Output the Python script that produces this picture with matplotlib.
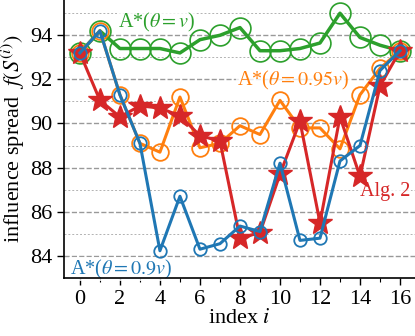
import numpy as np
import matplotlib
matplotlib.use("Agg")
import matplotlib.pyplot as plt
from matplotlib.ticker import MultipleLocator

plt.rcParams['font.family'] = ['Liberation Serif', 'DejaVu Serif']
plt.rcParams['mathtext.fontset'] = 'stix'

idx = np.arange(17)
# A*(theta = v)
green = [93.2, 94.2, 93.4, 93.4, 93.4, 93.2, 93.8, 94.0, 94.35, 93.3,
         93.3, 93.4, 93.65, 95.0, 93.9, 93.55, 93.3]
# A*(theta = 0.95v)
orange = [93.2, 94.2, 91.3, 89.1, 88.7, 91.2, 88.9, 89.1, 89.9, 89.5,
          91.05, 89.8, 89.8, 88.85, 91.3, 92.5, 93.3]
# A*(theta = 0.9v)
blue = [93.2, 94.2, 91.3, 89.1, 84.23, 86.7, 84.3, 84.55, 85.35, 85.1,
        88.2, 84.7, 84.8, 88.3, 89.0, 92.4, 93.3]
# Alg. 2
red = [93.2, 91.05, 90.3, 90.8, 90.7, 90.35, 89.45, 89.2, 84.8, 85.05,
       87.7, 90.1, 85.5, 90.3, 87.6, 91.7, 93.3]

c_blue, c_orange, c_green, c_red = '#1f77b4', '#ff7f0e', '#2ca02c', '#d62728'

fig = plt.figure(figsize=(4.15, 3.36), dpi=100)
ax = fig.add_axes([0.154, 0.173, 0.846, 0.827])

ax.plot(idx, green, color=c_green, lw=2.5, marker='o', ms=15,
        mfc='none', mew=1.2, zorder=3)
ax.plot(idx, orange, color=c_orange, lw=2.2, marker='o', ms=12,
        mfc='none', mew=1.3, zorder=4)
ax.plot(idx, red, color=c_red, lw=2.2, marker='*', ms=18, zorder=5)
ax.plot(idx, blue, color=c_blue, lw=2.2, marker='o', ms=9,
        mfc='none', mew=1.3, zorder=6)

box = dict(facecolor='white', edgecolor='none', pad=0.5, alpha=0.8)
ax.text(1.9, 94.6, r'A*($\theta=v$)', color=c_green, fontsize=14.5,
        va='center', bbox=box, zorder=2)
ax.text(7.85, 91.95, r'A*($\theta=0.95v$)', color=c_orange, fontsize=14.5,
        va='center', bbox=box, zorder=2)
ax.text(-0.5, 83.4, r'A*($\theta=0.9v$)', color=c_blue, fontsize=14.5,
        va='center', bbox=box, zorder=2)
ax.text(14.0, 86.9, 'Alg. 2', color=c_red, fontsize=14.5,
        va='center', bbox=box, zorder=2)

ax.set_xlim(-0.8, 16.75)
ax.set_ylim(83.0, 95.6)
ax.xaxis.set_major_locator(MultipleLocator(2))
ax.xaxis.set_minor_locator(MultipleLocator(1))
ax.yaxis.set_major_locator(MultipleLocator(2))
ax.yaxis.set_minor_locator(MultipleLocator(1))
ax.tick_params(axis='both', which='major', labelsize=16, length=5, width=1)
ax.tick_params(axis='x', which='minor', length=3, width=0.8)
ax.tick_params(axis='y', which='minor', length=0)

ax.grid(axis='y', which='major', ls='--', color='gray', lw=1.0, alpha=0.8)
ax.grid(axis='y', which='minor', ls=(0, (2, 2)), color='gray', lw=0.7, alpha=0.6)
ax.set_axisbelow(True)

for s in ['top', 'right']:
    ax.spines[s].set_visible(False)
ax.spines['left'].set_linewidth(1.2)
ax.spines['bottom'].set_linewidth(1.2)

ax.set_xlabel(r'index $i$', fontsize=16, labelpad=0)
ax.set_ylabel(r'influence spread  $f(S^{(i)})$', fontsize=16, labelpad=2)

fig.savefig('out.png', dpi=100)
